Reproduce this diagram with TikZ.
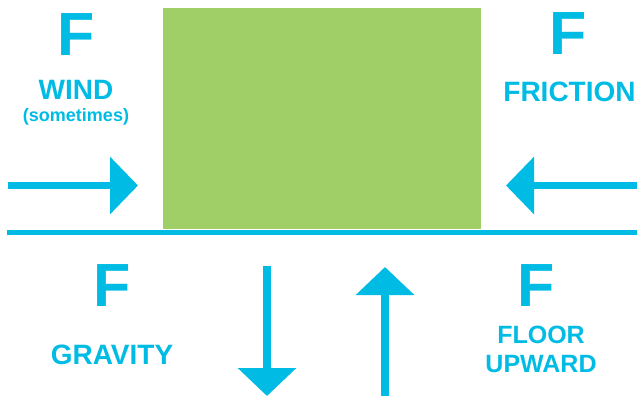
\documentclass[tikz,border=0pt]{standalone}
\usepackage{fontspec}
\setmainfont{Liberation Sans}
\usetikzlibrary{calc, positioning}
\usetikzlibrary{arrows.meta}

\definecolor{forcecyan}{RGB}{0,188,228}
\definecolor{boxgreen}{RGB}{160,207,103}

\tikzset{
  bigF/.style={text=forcecyan, font=\fontsize{61}{61}\selectfont\bfseries, inner sep=0pt},
  forcename/.style={text=forcecyan, font=\fontsize{28}{30}\selectfont\bfseries, inner sep=0pt, align=center},
  forcearrow/.style={draw=forcecyan, line width=7.5pt, -{Triangle[length=28pt, width=56pt]}},
}

\begin{document}
\begin{tikzpicture}[x=1pt, y=-1pt]
\def\floory{232}
\def\boxl{163}
\def\boxr{481}
\def\boxt{8}

\useasboundingbox (0,0) rectangle (637,396);

% block and floor
\fill[boxgreen] (\boxl,\boxt) rectangle (\boxr,229);
\coordinate (floorL) at (7,\floory);
\coordinate (floorR) at (637,\floory);
\draw[forcecyan, line width=5pt] (floorL) -- (floorR);

% horizontal forces
\coordinate (windS) at (8,185.5);
\coordinate (windE) at (138,185.5);
\draw[forcearrow] (windS) -- (windE);

\coordinate (fricS) at (637,185.5);
\coordinate (fricE) at (506,185.5);
\draw[forcearrow] (fricS) -- (fricE);

% vertical forces
\coordinate (gravS) at (267,266);
\coordinate (gravE) at (267,396);
\draw[forcearrow, -{Triangle[length=28pt, width=57pt]}] (gravS) -- (gravE);

\coordinate (upS) at (385,396);
\coordinate (upE) at (385,267);
\draw[forcearrow, -{Triangle[length=28pt, width=57pt]}] (upS) -- (upE);

% labels
\node[bigF] (Fwind) at (76,35) {F};
\node[forcename] (wind) at (76,89.5) {WIND};
\node[forcename, font=\fontsize{18}{20}\selectfont\bfseries, below=8.5pt of wind] (sometimes) {(sometimes)};

\node[bigF] (Ffric) at (568.5,33.5) {F};
\node[forcename] (fric) at (569.5,92) {FRICTION};

\node[bigF] (Fgrav) at (112,285.5) {F};
\node[forcename] (grav) at (112,354.5) {GRAVITY};

\node[bigF] (Ffloor) at (536.5,285.5) {F};
\node[forcename, font=\fontsize{25}{29}\selectfont\bfseries] (floorup) at (541,349.5) {FLOOR\\UPWARD};

\end{tikzpicture}
\end{document}
